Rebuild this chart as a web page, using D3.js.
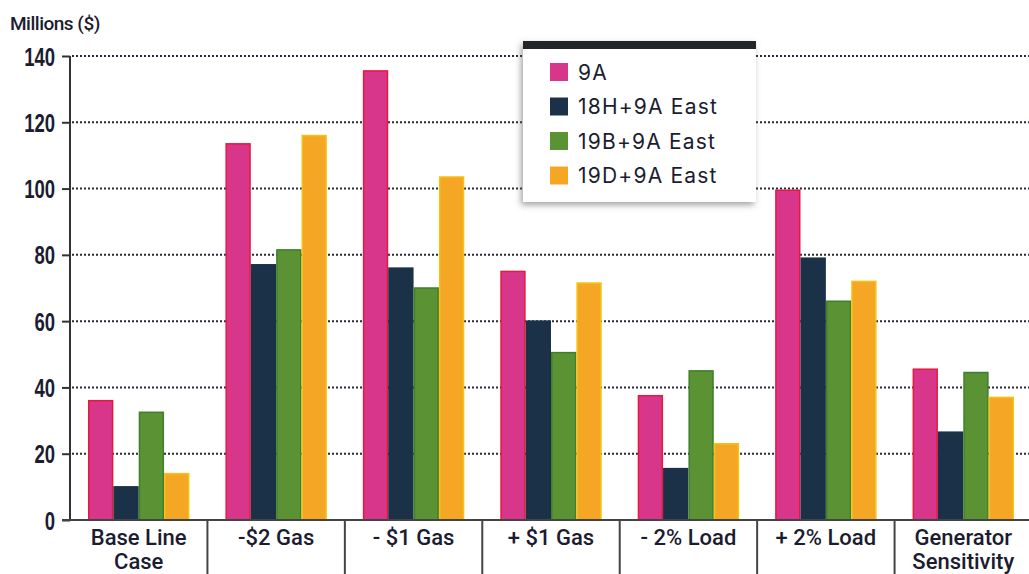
<!DOCTYPE html>
<html>
<head>
<meta charset="utf-8">
<script src="https://cdn.jsdelivr.net/npm/d3@7/dist/d3.min.js"></script>
<style>
  html, body { margin: 0; padding: 0; background: #fff; }
  svg { display: block; }
</style>
</head>
<body>
<svg id="chart" width="1029" height="574"></svg>
<script>
// Scenario categories along the x axis (line breaks marked with \n)
const categories = ["Base Line\nCase", "-$2 Gas", "- $1 Gas", "+ $1 Gas", "- 2% Load", "+ 2% Load", "Generator\nSensitivity"];
const seriesNames = ["9A", "18H+9A East", "19B+9A East", "19D+9A East"];

// Values in millions of dollars, one array per series
const v9A      = [36, 113.5, 135.5, 75, 37.5, 99.5, 45.5];
const v18H9A   = [10, 77, 76, 60, 15.5, 79, 26.5];
const v19B9A   = [32.5, 81.5, 70, 50.5, 45, 66, 44.5];
const v19D9A   = [14, 116, 103.5, 71.5, 23, 72, 37];

const yTicks = [0, 20, 40, 60, 80, 100, 120, 140];

const seriesValues = [v9A, v18H9A, v19B9A, v19D9A];
const fills   = ["#d8368b", "#1a3148", "#5a9234", "#f6a625"];
const strokes = ["#e8183c", "#1a3148", "#3f7f2a", "#f5c211"];

const svg = d3.select("#chart");
const textColor = "#1b1c30";

const x0 = d3.scaleBand().domain(categories).range([70, 1032]).paddingInner(0).paddingOuter(0);
const x1 = d3.scaleBand().domain(seriesNames).range([0, x0.bandwidth()]).paddingInner(0).paddingOuter(0.71);
const y = d3.scaleLinear().domain([0, 140]).range([520, 56]);

// Dotted horizontal gridlines
svg.append("g")
  .selectAll("line")
  .data(yTicks.filter(d => d > 0))
  .join("line")
  .attr("x1", 72).attr("x2", 1029)
  .attr("y1", d => y(d)).attr("y2", d => y(d))
  .attr("stroke", "#2a2a3a")
  .attr("stroke-width", 2)
  .attr("stroke-dasharray", "2,2");

// Bars grouped per category
const groups = svg.append("g")
  .selectAll("g")
  .data(categories)
  .join("g")
  .attr("transform", d => `translate(${x0(d)},0)`);

groups.selectAll("rect")
  .data((c, ci) => seriesNames.map((s, si) => ({ s, si, v: seriesValues[si][ci] })))
  .join("rect")
  .attr("x", d => x1(d.s) + 0.75)
  .attr("width", x1.bandwidth() - 1.5)
  .attr("y", d => y(d.v))
  .attr("height", d => y(0) - y(d.v))
  .attr("fill", d => fills[d.si])
  .attr("stroke", d => strokes[d.si])
  .attr("stroke-width", 1.5);

// Y axis
const yAxis = d3.axisLeft(y).tickValues(yTicks).tickSize(8).tickPadding(7);
const gy = svg.append("g").attr("transform", "translate(70,0)").call(yAxis);
gy.select(".domain").attr("stroke", "#333").attr("stroke-width", 2).attr("d", `M0,${y(140)}V${y(0)}`);
gy.selectAll(".tick line").attr("stroke", "#333").attr("stroke-width", 2);
// Condensed bold tick numbers: squeeze horizontally around the right edge
gy.selectAll(".tick text")
  .attr("fill", textColor)
  .attr("x", 0)
  .attr("transform", "translate(-15,0) scale(0.74,1)")
  .style("font-family", "'Liberation Sans', sans-serif")
  .style("font-weight", "bold")
  .style("font-size", "25px")
  .attr("dy", "0.36em");

// X axis baseline and category separators
const gx = svg.append("g");
gx.append("line")
  .attr("x1", 62).attr("x2", 1029)
  .attr("y1", y(0)).attr("y2", y(0))
  .attr("stroke", "#444").attr("stroke-width", 2);

gx.selectAll("line.sep")
  .data(categories.slice(1))
  .join("line")
  .attr("class", "sep")
  .attr("x1", d => x0(d)).attr("x2", d => x0(d))
  .attr("y1", y(0)).attr("y2", 574)
  .attr("stroke", "#444").attr("stroke-width", 2);

gx.selectAll("text.cat")
  .data(categories)
  .join("text")
  .attr("class", "cat")
  .attr("text-anchor", "middle")
  .attr("fill", textColor)
  .style("font-family", "Roboto, sans-serif")
  .style("font-weight", 500)
  .style("font-size", "22px")
  .attr("transform", d => `translate(${x0(d) + x0.bandwidth() / 2},545)`)
  .each(function(d) {
    const lines = d.split("\n");
    d3.select(this).selectAll("tspan")
      .data(lines)
      .join("tspan")
      .attr("x", 0)
      .attr("y", (l, i) => i * 24)
      .text(l => l);
  });

// Axis title
svg.append("text")
  .attr("x", 10).attr("y", 30)
  .attr("fill", textColor)
  .style("font-family", "Roboto, sans-serif")
  .style("font-weight", 500)
  .style("font-size", "19px")
  .style("letter-spacing", "-0.5px")
  .text("Millions ($)");

// Legend
const defs = svg.append("defs");
const shadow = defs.append("filter").attr("id", "legendShadow")
  .attr("x", "-10%").attr("y", "-10%").attr("width", "125%").attr("height", "130%");
shadow.append("feDropShadow")
  .attr("dx", -2).attr("dy", 3).attr("stdDeviation", 3)
  .attr("flood-color", "#555").attr("flood-opacity", 0.55);

const legend = svg.append("g").attr("transform", "translate(523,41)");
legend.append("rect")
  .attr("width", 233).attr("height", 161)
  .attr("fill", "#fff")
  .attr("filter", "url(#legendShadow)");
legend.append("rect")
  .attr("width", 233).attr("height", 8)
  .attr("fill", "#222628");

const items = legend.selectAll("g.item")
  .data(seriesNames)
  .join("g")
  .attr("class", "item")
  .attr("transform", (d, i) => `translate(27,${31 + i * 34.5})`);

items.append("rect")
  .attr("x", 0).attr("y", -9)
  .attr("width", 18).attr("height", 18)
  .attr("fill", (d, i) => fills[i]);

items.append("text")
  .attr("x", 28).attr("y", 0)
  .attr("dy", "0.36em")
  .attr("fill", textColor)
  .style("font-family", "Inter, sans-serif")
  .style("font-size", "21px")
  .style("letter-spacing", "1.2px")
  .text(d => d);
</script>
</body>
</html>
